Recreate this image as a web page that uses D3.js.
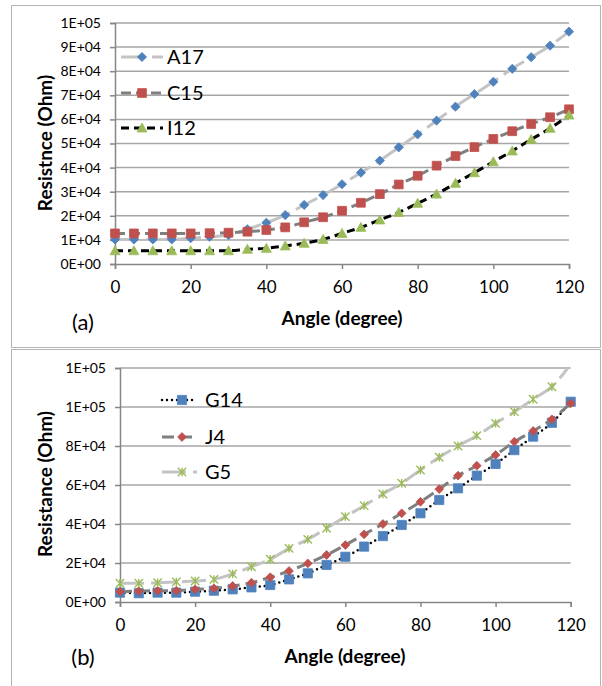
<!DOCTYPE html>
<html>
<head>
<meta charset="utf-8">
<script src="https://cdn.jsdelivr.net/npm/d3@7"></script>
<style>
  body { margin: 0; background: #fff; }
  svg { display: block; font-family: Lato, "Open Sans", sans-serif; }
</style>
</head>
<body>
<svg id="svg" width="602" height="686"></svg>
<script>
// angle steps shared by every series
const angles = [0, 5, 10, 15, 20, 25, 30, 35, 40, 45, 50, 55, 60, 65, 70, 75, 80, 85, 90, 95, 100, 105, 110, 115, 120];
const xTicks = [0, 20, 40, 60, 80, 100, 120];

// panel (a)
const a17 = [10200, 10200, 10200, 10200, 10700, 11300, 12000, 14400, 17100, 20300, 24500, 28600, 33100, 37900, 42900, 48400, 53800, 59500, 65300, 70500, 75600, 81000, 85800, 90600, 96400];
const c15 = [12700, 12700, 12700, 12700, 12700, 12800, 13000, 13400, 14100, 15200, 17300, 19400, 22100, 25400, 29000, 33000, 36600, 40800, 44800, 48500, 51900, 55100, 58100, 60900, 64200];
const i12 = [5500, 5500, 5500, 5500, 5500, 5500, 5500, 6100, 6500, 7500, 8600, 10200, 12700, 15200, 18300, 21400, 25200, 29000, 33500, 37900, 42400, 46900, 51700, 56300, 61800];
const yTicksA = [0, 10000, 20000, 30000, 40000, 50000, 60000, 70000, 80000, 90000, 100000];

// panel (b)
const g14 = [4800, 4500, 4800, 4800, 5300, 5800, 6500, 7500, 8700, 11600, 14700, 19000, 23200, 28400, 33800, 39500, 45500, 52300, 58300, 64800, 70800, 77900, 84800, 91900, 102700];
const j4 = [5300, 5600, 5800, 5800, 6500, 7000, 8200, 9900, 12700, 15900, 19800, 24100, 29200, 34700, 40000, 45500, 51400, 57900, 64800, 69900, 75400, 82200, 87700, 93700, 101900];
const g5 = [9600, 9600, 9900, 10300, 10800, 11600, 14400, 18100, 21900, 27500, 32100, 37800, 43800, 49400, 55400, 60900, 67700, 74200, 80000, 85300, 91600, 97600, 104000, 110400, 122000];
const yTicksB = [0, 20000, 40000, 60000, 80000, 100000, 120000];

var svg = d3.select("#svg");

// excel style "1E+05"
var fmtE = function(v) {
  var p = v.toExponential(0).split("e");
  var n = +p[1];
  return p[0] + "E" + (n < 0 ? "-" : "+") + String(Math.abs(n)).padStart(2, "0");
};

var markerPath = function(type, r) {
  if (type == "diamond") return "M0," + (-r) + "L" + r + ",0L0," + r + "L" + (-r) + ",0Z";
  if (type == "square") return "M" + (-r) + "," + (-r) + "h" + (2 * r) + "v" + (2 * r) + "h" + (-2 * r) + "Z";
  if (type == "triangle") return "M0," + (-r) + "L" + r + "," + (r * 0.8) + "L" + (-r) + "," + (r * 0.8) + "Z";
  // asterisk: x plus vertical bar
  return "M" + (-r) + "," + (-r) + "L" + r + "," + r + "M" + (-r) + "," + r + "L" + r + "," + (-r) + "M0," + (-r) + "L0," + r;
};

var panels = [
  {
    id: "a", box: [11.5, 5.5, 589, 342],
    left: 115, right: 569, top: 23, bottom: 264,
    yTicks: yTicksA, yTitle: "Resistnce (Ohm)", yTitleY: 143,
    xTitleX: 342, xTitleY: 318, tag: "(a)", tagY: 322,
    legend: {x0: 121, x1: 163, mx: 142, tx: 167, ys: [57, 93, 128]},
    series: [
      {name: "A17", values: a17, line: "#c3c3c3", dash: "24,7", lw: 3, marker: "diamond", r: 4.6, fill: "#4f81bd"},
      {name: "C15", values: c15, line: "#7f7f7f", dash: "10,5", lw: 3, marker: "square", r: 4.4, fill: "#c0504d"},
      {name: "I12", values: i12, line: "#000000", dash: "8,5", lw: 3, marker: "triangle", r: 5, fill: "#9bbb59"}
    ]
  },
  {
    id: "b", box: [11.5, 349.5, 589, 345],
    left: 120, right: 570.7, top: 368, bottom: 602,
    yTicks: yTicksB, yTitle: "Resistance (Ohm)", yTitleY: 484,
    xTitleX: 345, xTitleY: 656, tag: "(b)", tagY: 657,
    legend: {x0: 162, x1: 197, mx: 182, tx: 205, ys: [400, 437, 472]},
    series: [
      {name: "G14", values: g14, line: "#000000", dash: "0,5", lw: 2.5, cap: "round", marker: "square", r: 4.6, fill: "#4f81bd"},
      {name: "J4", values: j4, line: "#7f7f7f", dash: "12,6", lw: 3, marker: "diamond", r: 4.4, fill: "#c0504d"},
      {name: "G5", values: g5, line: "#c3c3c3", dash: "24,7", lw: 3, marker: "asterisk", r: 4.2, fill: "#9bbb59"}
    ]
  }
];

panels.forEach(function(p) {
  var yMax = d3.max(p.yTicks);
  var x = d3.scaleLinear().domain([0, 120]).range([p.left, p.right]);
  var y = d3.scaleLinear().domain([0, yMax]).range([p.bottom, p.top]);

  // outer frame
  svg.append("rect")
      .attr("x", p.box[0]).attr("y", p.box[1])
      .attr("width", p.box[2]).attr("height", p.box[3])
      .attr("fill", "none").attr("stroke", "#b4b4b4");

  // gridlines
  svg.append("g")
    .selectAll("line")
    .data(p.yTicks.filter(d => d > 0))
    .join("line")
      .attr("x1", p.left).attr("x2", p.right)
      .attr("y1", d => y(d)).attr("y2", d => y(d))
      .attr("stroke", "#a6a6a6").attr("stroke-width", 1.5);

  var yAxis = svg.append("g")
      .attr("transform", "translate(" + p.left + ",0)")
      .call(d3.axisLeft(y).tickValues(p.yTicks).tickFormat(fmtE).tickSizeOuter(0).tickSize(5).tickPadding(9));
  var xAxis = svg.append("g")
      .attr("transform", "translate(0," + p.bottom + ")")
      .call(d3.axisBottom(x).tickValues(xTicks).tickSizeOuter(0).tickSize(5).tickPadding(12));
  [xAxis, yAxis].forEach(function(g) {
    g.select(".domain").attr("stroke", "#868686").attr("stroke-width", 1.5);
    g.selectAll(".tick line").attr("stroke", "#868686").attr("stroke-width", 1.5);
    g.selectAll("text").attr("fill", "#000").attr("font-family", "Lato, sans-serif");
  });
  yAxis.selectAll("text").attr("font-size", 14);
  xAxis.selectAll("text").attr("font-size", 17);

  // titles
  svg.append("text")
      .attr("transform", "translate(45," + p.yTitleY + ") rotate(-90)")
      .attr("text-anchor", "middle").attr("dy", "0.35em")
      .attr("font-weight", "bold").attr("font-size", 19)
      .text(p.yTitle);
  svg.append("text")
      .attr("x", p.xTitleX).attr("y", p.xTitleY)
      .attr("text-anchor", "middle").attr("dy", "0.35em")
      .attr("font-weight", "bold").attr("font-size", 19)
      .text("Angle (degree)");
  svg.append("text")
      .attr("x", 83).attr("y", p.tagY)
      .attr("text-anchor", "middle").attr("dy", "0.35em")
      .attr("font-size", 22)
      .text(p.tag);

  // clip the lines to the plot area
  svg.append("clipPath").attr("id", "clip-" + p.id)
    .append("rect")
      .attr("x", p.left).attr("y", p.top)
      .attr("width", p.right - p.left).attr("height", p.bottom - p.top);

  var line = d3.line()
    .x((d, i) => x(angles[i]))
    .y(d => y(d))
    .curve(d3.curveCatmullRom.alpha(0.5));

  p.series.forEach(function(s, k) {
    svg.append("path")
        .attr("clip-path", "url(#clip-" + p.id + ")")
        .attr("d", line(s.values))
        .attr("fill", "none")
        .attr("stroke", s.line).attr("stroke-width", s.lw)
        .attr("stroke-dasharray", s.dash)
        .attr("stroke-linecap", s.cap || "butt");

    var pts = angles.map((a, i) => [a, s.values[i]]).filter(d => d[1] <= yMax);
    var isStar = s.marker == "asterisk";
    svg.append("g")
      .selectAll("path")
      .data(pts)
      .join("path")
        .attr("transform", d => "translate(" + x(d[0]) + "," + y(d[1]) + ")")
        .attr("d", markerPath(s.marker, s.r))
        .attr("fill", isStar ? "none" : s.fill)
        .attr("stroke", s.fill).attr("stroke-width", isStar ? 1.4 : 0.8);

    // legend entry
    var ly = p.legend.ys[k];
    svg.append("line")
        .attr("x1", p.legend.x0).attr("x2", p.legend.x1)
        .attr("y1", ly).attr("y2", ly)
        .attr("stroke", s.line).attr("stroke-width", s.lw)
        .attr("stroke-dasharray", s.dash)
        .attr("stroke-linecap", s.cap || "butt");
    svg.append("path")
        .attr("transform", "translate(" + p.legend.mx + "," + ly + ")")
        .attr("d", markerPath(s.marker, s.r))
        .attr("fill", isStar ? "none" : s.fill)
        .attr("stroke", s.fill).attr("stroke-width", isStar ? 1.4 : 0.8);
    svg.append("text")
        .attr("x", p.legend.tx).attr("y", ly)
        .attr("dy", "0.35em").attr("font-size", 20)
        .text(s.name);
  });
});
</script>
</body>
</html>
